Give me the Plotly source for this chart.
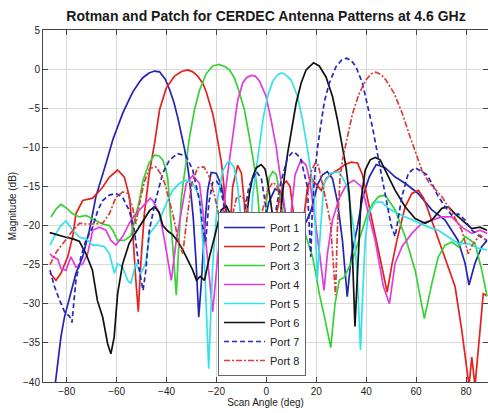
import plotly.graph_objects as go

# Scan angle (deg) and magnitude (dB) for each port of the Rotman lens + patch array
port1_deg = [-84.5, -83.6, -82.3, -80.9, -78.9, -76.3, -73.6, -70.9, -68.3, -66, -64.3, -61.5, -59.5, -57.5, -55, -53.5, -51, -49.5, -47, -44.8,
             -42.8, -40.5, -38.8, -37, -35.5, -34, -32.8, -31.5, -30.5, -29.3, -28.2, -27.1, -26.1, -24.8, -23.5, -22.1, -20.1, -18.1, -16.1,
             -13, -10, -7, -4, -1, 1, 3.5, 6, 8, 10, 12, 14, 16, 18, 20.5, 22.5, 24.4, 26.5, 28.5, 30.5, 32.4, 34, 36.4, 38.5, 41.2, 44,
             47.6, 51.6, 55.6, 60.8, 66.3, 71.6, 76.8, 79.6, 81.2, 83.6, 86.3, 88.4]
port1_db = [-40, -37.6, -34.2, -31.7, -29.1, -26.1, -24, -20.6, -16.3, -14, -12.1, -9, -7.2, -5.6, -3.9, -2.9, -1.7, -1.1, -0.5, -0.25,
            -0.35, -1.3, -2.6, -4.3, -6.2, -8.3, -10.2, -12.5, -15, -19, -24.5, -31.7, -27.5, -20.5, -15.5, -13.2, -13.3, -14.8, -18,
            -23, -21, -22, -26, -20, -17, -15.3, -15.8, -19, -24, -22, -20, -19.5, -18, -14.8, -13.5, -13.1, -14, -17, -22, -29.1, -24, -20.3, -16.5, -13.8, -12.2,
            -12.6, -13.8, -14.6, -15.9, -18, -19.3, -21.9, -24.8, -27.6, -24.8, -22.7, -21.9]

port2_deg = [-86.7, -84.3, -82.3, -79.6, -77.6, -76.3, -73.6, -69.6, -65.6, -62.9, -59.6, -56.9, -54.9, -53.6, -52.3, -51.3, -50.3, -48.9, -46.9,
             -44.8, -42.8, -40.1, -36.8, -34, -31.5, -29.5, -27.5, -25.5, -24.1, -22.8, -21.5, -20.5, -19.5, -18, -17, -16.3, -15.5, -14.6,
             -13.5, -11.5, -10, -9, -8, -6, -3, 0, 3, 5, 6.5, 8, 9.5, 11, 13, 15, 16.5, 18, 20, 22, 24, 26.5, 29, 31.5, 34, 36.5, 38.5,
             40.5, 43.6, 46.9, 48.4, 50.3, 52.3, 55.6, 58.3, 60.9, 63, 64.3, 67.6, 71.6, 75.6, 78.3, 80.3, 81.2, 82.3, 83.6, 85.6, 86.9, 88.4]
port2_db = [-26.1, -27, -26.1, -24, -21.4, -18.5, -16.8, -16.5, -15.1, -13.8, -12.9, -13.8, -16.3, -20.6, -27, -31, -24.8, -18.5, -13.3,
            -9.5, -5.2, -2.4, -0.9, -0.3, -0.1, -0.35, -0.9, -1.8, -2.9, -4.2, -5.7, -7.3, -9.1, -12, -15, -18.5, -23, -21,
            -15, -12.3, -13.3, -16.5, -21, -26, -22, -25, -20, -17, -14.8, -14.3, -15, -19, -24, -19, -15, -14, -14.8, -15.5, -14, -13.3, -12.8, -12.2, -11.9, -12, -13.5,
            -16.5, -21.5, -26.5, -28.5, -25, -21.9, -17.6, -15.9, -15.5, -16.5, -17.6, -20.6, -24, -27.8, -33.4, -38.5, -40.5, -36.8, -40.5, -33.4, -28.7, -29]

port3_deg = [-86.3, -84.3, -82.3, -80.3, -77.6, -74.9, -72.3, -68.3, -65.6, -62.9, -61.6, -59.6, -56.9, -54.3, -52.2, -50.9, -49.5, -47, -44.8,
             -43, -41.5, -40.3, -39.5, -38.1, -36.1, -35, -34.2, -33.5, -32.1, -30.8, -28.8, -26.8, -24.1, -21.5, -19, -16.5, -14.8, -13,
             -11.5, -10, -8.8, -6.8, -4.8, -3.5, -2.8, -2, -1, 0, 1.2, 2.6, 4, 5.5, 7, 9, 11, 13, 16.4, 18.5, 20, 21.2, 23.5, 25.8, 27.5,
             29.2, 31.2, 34.5, 38.5, 40.5, 42.5, 45, 47.6, 51.6, 55.6, 59.6, 63.3, 66.3, 68.9, 71.6, 74.3, 76.9, 79.6, 83.6, 86.3, 88.4]
port3_db = [-18.9, -17.9, -17.3, -17.7, -18.5, -18.9, -18.7, -19.4, -19.8, -20, -20.6, -21.9, -21.9, -21.3, -18.5, -16.8, -14.3, -12, -11,
            -11.1, -11.6, -12.8, -14, -20.6, -28.9, -22, -17, -15, -11.6, -8.7, -5.2, -2.7, -0.6, 0.4, 0.6, 0.3, -0.1, -1,
            -2.3, -3.8, -5.2, -8.7, -12.5, -15.9, -18.5, -22, -24, -17, -13.8, -13.1, -13.5, -16, -19, -23, -20, -18.5, -22, -24, -26.5, -28.7, -32, -35.6, -30,
            -27, -26.6, -24.4, -20.5, -18.5, -17.2, -16.3, -16.1, -18, -21.4, -25.7, -31.9, -27.4, -24, -22.5, -22.1, -22.7, -21.4, -22.3, -25.7, -29]

port4_deg = [-86.7, -85.6, -83.6, -82.3, -80.3, -78.3, -76.3, -73.6, -71.6, -69.6, -66.9, -64.3, -62.3, -60.3, -57.6, -54.9, -52.3, -49.6, -46.5,
             -45.5, -42.8, -40.8, -38.1, -36.1, -34.1, -32.1, -29.5, -26.8, -25.5, -24.1, -21.5, -19.5, -18, -16.8, -15.5, -14.1, -12.8,
             -11.5, -9.5, -8, -6.1, -4.5, -2.8, -0.1, 1.9, 3.9, 5.2, 6.8, 8, 9, 10, 11.5, 13.9, 16, 17.5, 19.5, 21.5, 23.1, 24.5, 26.5,
             29.2, 32, 35, 38, 39.6, 43.6, 46.9, 49.3, 51.6, 54.3, 58.3, 62.3, 66.3, 70.3, 74.3, 78.3, 82.3, 85.6, 88.4]
port4_db = [-23.6, -24, -24.3, -25.5, -25.7, -24, -25.3, -24.9, -23.6, -20.6, -20.2, -20.6, -21.9, -22.5, -21.4, -19.7, -18.5, -17.6, -16.5,
            -16.8, -18.5, -21.9, -27, -21.9, -18.1, -14.6, -13.6, -14.6, -18, -22.7, -31, -24, -19.5, -16.8, -13.3, -9.9, -6.5,
            -4, -1.8, -1.1, -0.8, -0.9, -1.5, -3.5, -6.5, -9.9, -12.9, -16.3, -20, -24, -18, -13.5, -11.6, -12.3, -14.5, -19, -24, -28.3, -23.5, -19.3,
            -16.5, -14.8, -14.2, -15, -16.8, -21.9, -27.8, -30, -24.8, -22.7, -21, -19.7, -19.3, -18.9, -18.9, -20.2, -21, -20.6, -21]

port5_deg = [-86.7, -84.3, -82.3, -80.3, -77.6, -74.9, -72.3, -69.6, -67.6, -64.9, -62.9, -60.9, -59.6, -57.6, -55.6, -54.3, -52.3, -50.3, -48.3,
             -46.8, -44.8, -42.8, -40.1, -37.5, -34.8, -32.1, -29.5, -26.8, -24.8, -23.1, -21.5, -19.5, -17.5, -15.5, -14.8, -13, -11.5,
             -10.5, -9, -7.5, -6.5, -5.5, -4.1, -2.8, -1.2, 0.5, 2.5, 4.5, 6.3, 8, 9.9, 12.5, 14.5, 16.3, 17.9, 19.2, 20.4, 21.8, 23.1,
             25.7, 29.1, 32.4, 35.1, 36.5, 37.7, 38.7, 39.6, 40.9, 43.6, 46.3, 48.9, 52.9, 56.9, 60.9, 64.9, 68.9, 72.9, 76.9, 80.9, 84.9, 88.4]
port5_db = [-22.5, -21, -20, -19.4, -20.6, -21.5, -21.7, -22.5, -22.5, -22.7, -23.6, -26.1, -24.9, -25.3, -27, -27.4, -24.8, -26.1, -24.8,
            -21, -20.2, -19.3, -17.2, -15.5, -14.6, -14.2, -14.6, -16.3, -24.8, -38.3, -25, -16.5, -13, -11.9, -11.8, -12.5, -15,
            -18.5, -23, -27, -21, -16.3, -12.9, -9.5, -6.1, -3.5, -1.6, -0.7, -0.5, -0.8, -1.4, -3.5, -6.5, -9.9, -13.3, -16.8, -27, -20, -14.6,
            -13.3, -13.1, -15, -20.6, -27, -35.9, -28, -21.9, -18.5, -17, -17, -17.8, -18.5, -19.1, -19.7, -20.2, -20.6, -21.5, -22.3, -22.3, -22.9, -23.1]

port6_deg = [-86.8, -84, -80.3, -77.5, -75, -72.3, -69.7, -67.7, -65.6, -63.6, -62.3, -61, -59.6, -57.6, -55, -53, -50.9, -48.5, -46.8, -44.8,
             -43, -41.5, -39.5, -37.5, -35.5, -33.5, -31.5, -29.5, -28, -26.5, -24.8, -22.8, -20.1, -18.1, -16, -13, -10, -8, -6.8, -5.5,
             -4, -2.1, -0.5, 0.4, 1.5, 2.4, 3.5, 4.5, 5.3, 5.9, 7.2, 8.5, 10.3, 11.9, 13.9, 15.9, 18.9, 21.2, 23.9, 26.5, 28.5, 30.5, 31.9,
             33.2, 34.3, 35.5, 36.5, 37.9, 39.6, 41.6, 43.6, 45.6, 47.6, 51.6, 55.6, 59.6, 63.6, 66.3, 70.3, 72.9, 75.6, 78.3, 82.3, 85.6, 88.4]
port6_db = [-20.9, -21.2, -21.5, -21.7, -22, -23.6, -25.7, -29.6, -31.7, -35.1, -36.4, -34.3, -28.7, -24.9, -22.3, -21.2, -20.2, -19, -18.1, -17.6,
            -18.3, -20, -20.7, -21.2, -22, -23.1, -24.3, -25.7, -27, -26.5, -27, -24, -20.6, -18, -17.5, -19.5, -21, -19, -15.9, -13.8,
            -12.6, -12.2, -12.8, -14.2, -16.5, -18.5, -23, -26, -21, -17.6, -13.8, -10.8, -7.4, -4.4, -1.8, -0.1, 0.8, 0.4, -1, -3.5, -6.5, -9.9, -12.5,
            -15.9, -22, -32.9, -25.3, -16.8, -12.9, -11.6, -11.3, -11.6, -12.9, -15.5, -17.6, -19.1, -19.7, -19.3, -17.8, -17.6, -18.5, -19.3, -20.4, -20.2, -20.6]

port7_deg = [-86.7, -84.9, -82.9, -80.9, -78.9, -77.9, -76.3, -74.3, -72.3, -69.6, -67.6, -65.6, -62.9, -60.3, -57.6, -54.9, -52.9, -50.9, -49.4,
             -48.3, -46.9, -44.4, -41.5, -38.8, -35.5, -32.1, -29.5, -26.8, -25.5, -24.3, -23, -21.5, -20, -18.5, -17, -15.5, -12, -9,
             -7, -4, -2, -0.5, 1, 2.5, 3.7, 5.7, 8.4, 10.5, 11.5, 13.7, 16.4, 17.3, 17.8, 18.4, 19.5, 20.5, 21.7, 23.2, 25.2, 27.9, 30,
             32.1, 34, 35.9, 38.5, 40.5, 42.5, 44.5, 46.5, 48.5, 50, 51.6, 53, 54.3, 56.9, 59.6, 62.3, 64.3, 66.3, 68.9, 71.6, 74.3, 76.9,
             79.6, 82.3, 85.6, 88.4]
port7_db = [-25.7, -27.8, -29.5, -31, -31.6, -32.4, -27, -24, -21.9, -20.2, -18.1, -16.8, -16.1, -15.9, -16.4, -18.1, -20.6, -25.7, -28.3,
            -25.7, -20.6, -16.8, -13.3, -11.6, -10.8, -11.1, -12.9, -16.8, -20.2, -22, -17, -14.5, -14.3, -15, -17.5, -21, -24, -19,
            -15, -13.1, -14, -17, -21, -20, -18.3, -14.6, -11.4, -10.6, -10.7, -11.4, -15, -21, -24, -18, -13, -10, -7.6, -4.2, -1.8, 0.3, 1.1,
            1.4, 1.1, 0.3, -1.8, -4.4, -7.4, -10.8, -14.2, -17.5, -20, -21.4, -19, -16.3, -13.3, -12.6, -13.1, -13.5, -14.6, -16.3, -17.6, -18.7, -18.5,
            -19.3, -20.6, -21.4, -21.9]

port8_deg = [-86.7, -84, -81.5, -78, -74.8, -72.3, -69.6, -65.6, -62.9, -60.3, -57.6, -55.6, -53.6, -52.3, -51, -49, -46.8, -44.3, -42.5,
             -40.8, -37.5, -35, -33.5, -31.8, -29.8, -27.5, -25, -22.8, -20.5, -18.5, -16, -13.5, -12, -10, -8, -6.5, -4, -1.5, 0.5,
             2.5, 4.2, 5.5, 7, 9, 12, 15, 18, 19.6, 20.8, 21.7, 23.7, 25.7, 27.7, 28.5, 29.5, 30.5, 32.5, 34.5, 37.2, 39.9, 42, 43.9,
             46, 47.9, 51.2, 54.5, 57.2, 59.9, 62.5, 65.2, 68, 70.3, 74.3, 78.3, 80.9, 82.5, 85.6, 88.4]
port8_db = [-25, -23.3, -22.3, -20.8, -19.7, -19.8, -19.8, -19.7, -18.5, -16.4, -15.7, -15.9, -17.7, -19.8, -17.5, -14.5, -12.7, -12.5, -13.3,
            -14.5, -18.5, -22.3, -23.6, -19, -14.5, -12.6, -12.5, -13.8, -16.5, -19.5, -22, -18.5, -16.5, -16.2, -17, -20, -24, -18, -15.5,
            -14.5, -14.8, -17, -21, -25, -22, -19, -13, -12, -12.3, -13.5, -16.5, -19.7, -28.9, -20, -14, -11.6, -8.7, -5.7, -3.1, -1.4, -0.6, -0.4,
            -0.7, -1.4, -3.1, -5.7, -8.3, -10.8, -13.1, -14.5, -15.5, -16.3, -18.3, -20.6, -23.6, -22.5, -21.2, -22]

port_names = ["Port 1", "Port 2", "Port 3", "Port 4", "Port 5", "Port 6", "Port 7", "Port 8"]
port_angles = [port1_deg, port2_deg, port3_deg, port4_deg, port5_deg, port6_deg, port7_deg, port8_deg]
port_levels = [port1_db, port2_db, port3_db, port4_db, port5_db, port6_db, port7_db, port8_db]

x_ticks = [-80, -60, -40, -20, 0, 20, 40, 60, 80]
y_ticks = [5, 0, -5, -10, -15, -20, -25, -30, -35, -40]

line_colors = ["#2323b4", "#e3221e", "#36d236", "#e03ddc", "#33e2ea", "#111111", "#2828bc", "#d9403c"]
line_dashes = ["solid", "solid", "solid", "solid", "solid", "solid", "5px,3px", "6px,2px,2px,2px"]

fig = go.Figure()
for name, xs, ys, col, dash in zip(port_names, port_angles, port_levels, line_colors, line_dashes):
    fig.add_trace(go.Scatter(
        x=xs, y=ys, mode="lines", name=name,
        line=dict(color=col, width=1.7, dash=dash),
    ))

axis_font = dict(family="Liberation Sans, Arial, sans-serif", size=10, color="#222222")

fig.update_layout(
    width=488, height=413,
    margin=dict(l=43, r=0, t=30, b=31),
    paper_bgcolor="white", plot_bgcolor="white",
    title=dict(
        text="<b>Rotman and Patch for CERDEC Antenna Patterns at 4.6 GHz</b>",
        x=(266 / 488), xanchor="center", y=1 - 16 / 413, yanchor="middle",
        font=dict(family="Liberation Sans, Arial, sans-serif", size=14, color="#1a1a1a"),
    ),
    showlegend=True,
    legend=dict(
        x=(218 - 43) / 445, y=(382 - 212) / 352, xanchor="left", yanchor="top",
        bgcolor="white", bordercolor="#666666", borderwidth=1,
        font=dict(family="Liberation Sans, Arial, sans-serif", size=11, color="#222222"),
        itemwidth=41,
    ),
    xaxis=dict(
        range=[-89.5, 88.8], tickvals=x_ticks, ticks="inside", ticklen=5,
        tickcolor="#444444", showline=True, linecolor="#444444", linewidth=1, mirror="ticks",
        showgrid=True, gridcolor="#d9d9d9", gridwidth=1, zeroline=False,
        tickfont=axis_font,
        title=dict(text="Scan Angle (deg)", font=axis_font, standoff=1),
    ),
    yaxis=dict(
        range=[-40, 5], tickvals=y_ticks, ticks="inside", ticklen=5,
        tickcolor="#444444", showline=True, linecolor="#444444", linewidth=1, mirror="ticks",
        showgrid=True, gridcolor="#d9d9d9", gridwidth=1, zeroline=False,
        tickfont=axis_font,
        title=dict(text="Magnitude (dB)", font=axis_font, standoff=4),
    ),
)

fig.write_html("out.html")
